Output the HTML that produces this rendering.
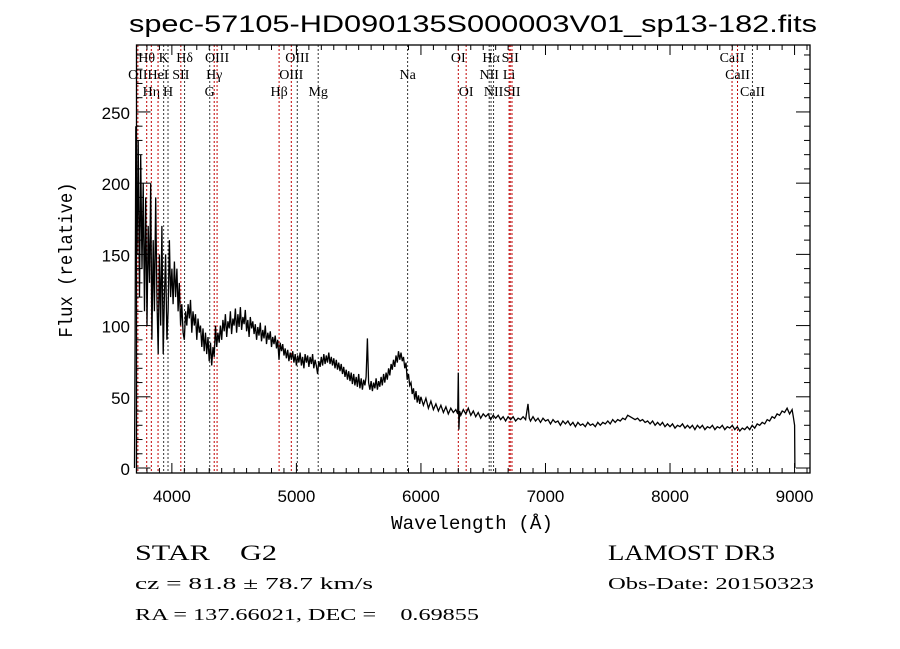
<!DOCTYPE html>
<html><head><meta charset="utf-8"><style>
html,body{margin:0;padding:0;background:#fff;}
svg{display:block;}
text{fill:#000;white-space:pre;}
</style></head><body>
<svg id="chart" width="900" height="649" viewBox="0 0 900 649" xmlns="http://www.w3.org/2000/svg" xml:space="preserve">
<rect x="0" y="0" width="900" height="649" fill="#fff"/>
<text x="473" y="32" text-anchor="middle" font-family="Liberation Sans, sans-serif" font-size="24" textLength="688" lengthAdjust="spacingAndGlyphs">spec-57105-HD090135S000003V01_sp13-182.fits</text>
<g id="lines"></g>
<g id="spec"></g>
<g id="axes"></g>
<text x="472" y="529" text-anchor="middle" font-family="Liberation Mono, monospace" font-size="19" textLength="162" lengthAdjust="spacingAndGlyphs">Wavelength (Å)</text>
<text transform="translate(72,260) rotate(-90)" text-anchor="middle" font-family="Liberation Mono, monospace" font-size="19" textLength="155" lengthAdjust="spacingAndGlyphs">Flux (relative)</text>
<text x="135" y="560" font-family="Liberation Serif, serif" font-size="22" textLength="142" lengthAdjust="spacingAndGlyphs">STAR    G2</text>
<text x="135" y="589" font-family="Liberation Serif, serif" font-size="17" textLength="238" lengthAdjust="spacingAndGlyphs">cz = 81.8 ± 78.7 km/s</text>
<text x="135" y="620" font-family="Liberation Serif, serif" font-size="17" textLength="344" lengthAdjust="spacingAndGlyphs">RA = 137.66021, DEC =    0.69855</text>
<text x="608" y="560" font-family="Liberation Serif, serif" font-size="22" textLength="167" lengthAdjust="spacingAndGlyphs">LAMOST DR3</text>
<text x="608" y="589" font-family="Liberation Serif, serif" font-size="17" textLength="206" lengthAdjust="spacingAndGlyphs">Obs-Date: 20150323</text>
</svg>
<script>
const waves = [3700,3705,3710,3720,3730,3740,3750,3760,3770,3780,3790,3800,3810,3820,3830,3840,3850,3860,3870,3880,3890,3900,3910,3920,3930,3940,3950,3960,3970,3980,3990,4000,4010,4020,4030,4040,4050,4060,4070,4080,4090,4100,4110,4120,4130,4140,4150,4160,4170,4180,4190,4200,4210,4220,4230,4240,4250,4260,4270,4280,4290,4300,4310,4320,4330,4340,4350,4360,4370,4380,4390,
4400,4410,4420,4430,4440,4450,4460,4470,4480,4490,4500,4510,4520,4530,4540,4550,4560,4570,4580,4590,4600,4610,4620,4630,4640,4650,4660,4670,4680,4690,4700,4710,4720,4730,4740,4750,4760,4770,4780,4790,4800,4810,4820,4830,4840,4850,4860,4870,4880,4890,4900,4910,4920,4930,4940,4950,4960,4970,4980,4990,5000,5010,5020,5030,5040,5050,5060,5070,5080,5090,5100,5110,5120,5130,5140,5150,5160,5170,5180,5190,5200,5210,5220,5230,5240,5250,5260,5270,5280,5290,5300,5310,5320,5330,5340,5350,5360,5370,5380,5390,5400,5410,5420,5430,5440,5450,5460,5470,5480,5490,5500,5510,5520,5530,5540,5550,5560,5570,5580,5590,5600,5610,5620,5630,5640,5650,5660,5670,5680,5690,5700,5710,5720,5730,5740,5750,5760,5770,5780,5790,5800,5810,5820,5830,5840,5850,5860,5870,5880,5890,5900,5910,5920,5930,5940,5950,5960,5970,5980,5990,6000,
6020,6040,6060,6080,6100,6120,6140,6160,6180,6200,6220,6240,6260,6280,6295,6300,6305,6310,6320,6340,6360,6380,6400,6420,6440,6460,6480,6500,6520,6540,6560,6580,6600,6620,6640,6660,6680,6700,6720,6740,6760,6780,6800,6820,6840,6860,6870,6880,6900,6920,6940,6960,6980,7000,7020,7040,7060,7080,7100,7120,7140,7160,7180,7200,7220,7240,7260,7280,7300,7320,7340,7360,7380,7400,7420,7440,7460,7480,7500,7520,7540,7560,7580,7600,7620,7640,7660,7680,7700,7720,7740,7760,7780,7800,7820,7840,7860,7880,7900,7920,7940,7960,7980,8000,8020,8040,8060,8080,8100,8120,8140,8160,8180,8200,8220,8240,8260,8280,8300,8320,8340,8360,8380,8400,8420,8440,8460,8480,8500,8520,8540,8560,8580,8600,8620,8640,8660,8680,8700,8720,8740,8760,8780,8800,8820,8840,8860,8880,8900,8920,8940,8960,8980,8990,9000,9003];
const flux = [0,90,240,150,230,120,220,140,200,110,190,100,170,130,200,90,160,110,190,120,80,150,100,170,80,120,150,90,110,160,120,140,115,145,120,140,110,130,100,115,95,90,110,100,115,105,118,95,110,100,108,90,105,95,100,85,98,82,95,80,92,75,88,72,85,78,100,85,95,88,100,
90,104,96,108,92,103,98,110,94,105,100,112,95,108,99,113,97,106,101,111,96,104,92,106,98,103,94,101,90,99,93,102,89,97,91,100,87,95,90,96,85,92,87,93,84,90,76,88,82,87,79,84,77,83,75,81,76,82,74,80,72,79,74,81,72,78,70,80,74,79,71,78,73,80,70,76,72,66,75,71,78,72,80,73,79,74,81,73,78,72,77,70,76,69,74,68,73,66,71,64,69,62,68,61,67,59,66,58,64,57,66,56,63,55,62,58,64,91,60,55,61,54,60,56,63,55,61,57,64,58,66,60,67,62,70,65,73,69,76,71,79,74,82,76,81,75,78,70,74,62,66,58,60,52,56,48,54,46,51,45,50,
44,49,42,47,41,45,40,44,39,43,38,42,39,41,38,67,27,40,37,41,38,42,37,40,36,39,35,38,36,38,34,37,35,37,34,36,33,36,34,36,33,35,34,36,34,45,35,33,36,33,35,32,35,33,34,31,34,32,33,30,33,31,33,30,32,29,32,30,31,29,32,30,31,29,32,30,32,31,33,31,34,32,34,33,35,34,37,36,35,34,35,33,34,32,33,31,33,30,32,30,32,29,31,29,31,28,30,29,31,28,30,28,30,27,30,28,30,27,29,28,30,27,29,28,30,27,29,28,30,27,29,26,28,27,29,27,30,28,31,30,32,31,34,33,36,35,38,37,40,39,42,38,41,36,30,0];
const lineWaves = [3727,3798,3835,3889,3934,3969,4072,4102,4304,4340,4363,4861,4959,5007,5175,5893,6300,6363,6548,6563,6583,6708,6717,6731,8498,8542,8662];
const lineLabels = ["OII","Hθ","Hη","HeI","K","H","SII","Hδ","G","Hγ","OIII","Hβ","OIII","OIII","Mg","Na","OI","OI","NII","Hα","NII","Li","SII","SII","CaII","CaII","CaII"];
const lineRows = [2,1,3,2,1,3,2,1,3,2,1,3,2,1,3,2,1,3,2,1,3,2,1,3,1,2,3];
const lineKinds = ["e","e","e","e","a","a","e","a","a","e","e","e","e","a","a","a","e","e","a","a","a","e","e","e","e","e","a"];
const yTicks = [0,50,100,150,200,250];
const xTicks = [4000,5000,6000,7000,8000,9000];

const L=136.5,R=810,T=45,B=473;
const X0=3716,X1=9124,Y0=-3.5,Y1=297;
const xs=v=>L+(v-X0)/(X1-X0)*(R-L);
const ys=v=>B-(v-Y0)/(Y1-Y0)*(B-T);
const NS="http://www.w3.org/2000/svg";
function mk(tag,attrs,parent){const e=document.createElementNS(NS,tag);for(const k in attrs)e.setAttribute(k,attrs[k]);parent.appendChild(e);return e;}

const gl=document.getElementById('lines');
lineWaves.forEach((w,i)=>{
  const x=xs(w);
  const ln=mk('line',{x1:x,x2:x,y1:T,y2:B,stroke:lineKinds[i]==="e"?"#c00000":"#333","stroke-width":1,"stroke-dasharray":"2,2"},gl);
  
  
  const t=mk('text',{x:x,y:T+17+(lineRows[i]-1)*17,"text-anchor":"middle","font-family":"Liberation Serif, serif","font-size":14},gl);
  t.textContent=lineLabels[i];
  
  
});

const gs=document.getElementById('spec');
let d="";
waves.forEach((w,i)=>{d+=(i?"L":"M")+xs(w).toFixed(1)+","+ys(flux[i]).toFixed(1);});
const p=mk('path',{d:d,fill:"none",stroke:"#000","stroke-width":1.3},gs);



const ga=document.getElementById('axes');
const fr=mk('rect',{x:L,y:T,width:R-L,height:B-T,fill:"none",stroke:"#000","stroke-width":1.3},ga);


for(let w=3800;w<=9100;w+=100){
  const x=xs(w),len=(w%1000===0)?10:5;
  mk('line',{x1:x,x2:x,y1:B,y2:B-len,stroke:"#000"},ga);
  mk('line',{x1:x,x2:x,y1:T,y2:T+len,stroke:"#000"},ga);
}
for(let v=0;v<=290;v+=10){
  const y=ys(v),len=(v%50===0)?14:6;
  mk('line',{x1:L,x2:L+len,y1:y,y2:y,stroke:"#000"},ga);
  mk('line',{x1:R,x2:R-len,y1:y,y2:y,stroke:"#000"},ga);
}
xTicks.forEach(v=>{
  const t=mk('text',{x:xs(v),y:502,"text-anchor":"middle","font-family":"Liberation Sans, sans-serif","font-size":17},ga);
  t.textContent=v;
  
  
});
yTicks.forEach(v=>{
  const t=mk('text',{x:130,y:ys(v)+7,"text-anchor":"end","font-family":"Liberation Sans, sans-serif","font-size":17},ga);
  t.textContent=v;
  
  
});
</script>
</body></html>
